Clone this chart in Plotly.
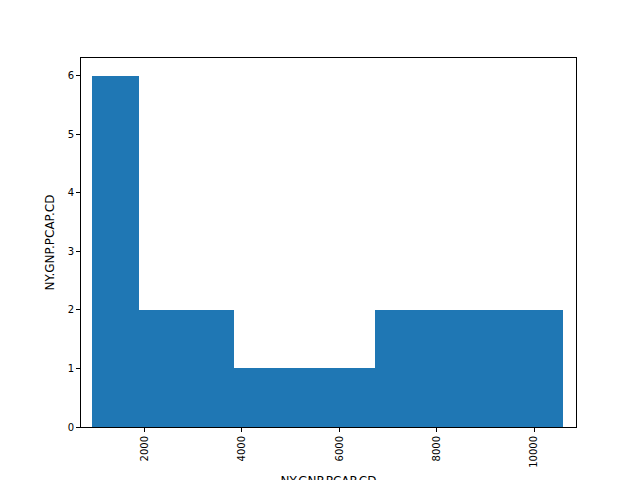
import plotly.graph_objects as go

# histogram of NY.GNP.PCAP.CD (10 bins)
bin_start = 927
bin_width = 967.4
counts = [6, 2, 2, 1, 1, 1, 2, 2, 2, 2]

x_ticks = [2000, 4000, 6000, 8000, 10000]
y_ticks = [0, 1, 2, 3, 4, 5, 6]

centers = [bin_start + bin_width * (i + 0.5) for i in range(len(counts))]

fig = go.Figure(go.Bar(
    x=centers,
    y=counts,
    width=bin_width,
    marker=dict(color="#1f77b4", line=dict(width=0)),
))

axis_common = dict(
    showgrid=False,
    zeroline=False,
    showline=True,
    linecolor="black",
    linewidth=1,
    mirror=True,
    ticks="outside",
    ticklen=4,
    tickcolor="black",
    tickformat="d",
    automargin=False,
    tickfont=dict(family="DejaVu Sans", size=10, color="black"),
)

# page puts the figure 8px in from the corner, margins account for that
fig.update_layout(
    width=640,
    height=480,
    margin=dict(l=73, r=72, t=50, b=61),
    paper_bgcolor="white",
    plot_bgcolor="white",
    showlegend=False,
    bargap=0,
    font=dict(family="DejaVu Sans", color="black"),
    xaxis=dict(
        range=[695, 10862],
        tickvals=x_ticks,
        tickangle=-90,
        title=dict(text="NY.GNP.PCAP.CD", font=dict(size=12), standoff=10),
        **axis_common,
    ),
    yaxis=dict(
        range=[0, 6.3],
        tickvals=y_ticks,
        title=dict(text="NY.GNP.PCAP.CD", font=dict(size=12), standoff=10),
        **axis_common,
    ),
)

fig.write_html("out.html")
